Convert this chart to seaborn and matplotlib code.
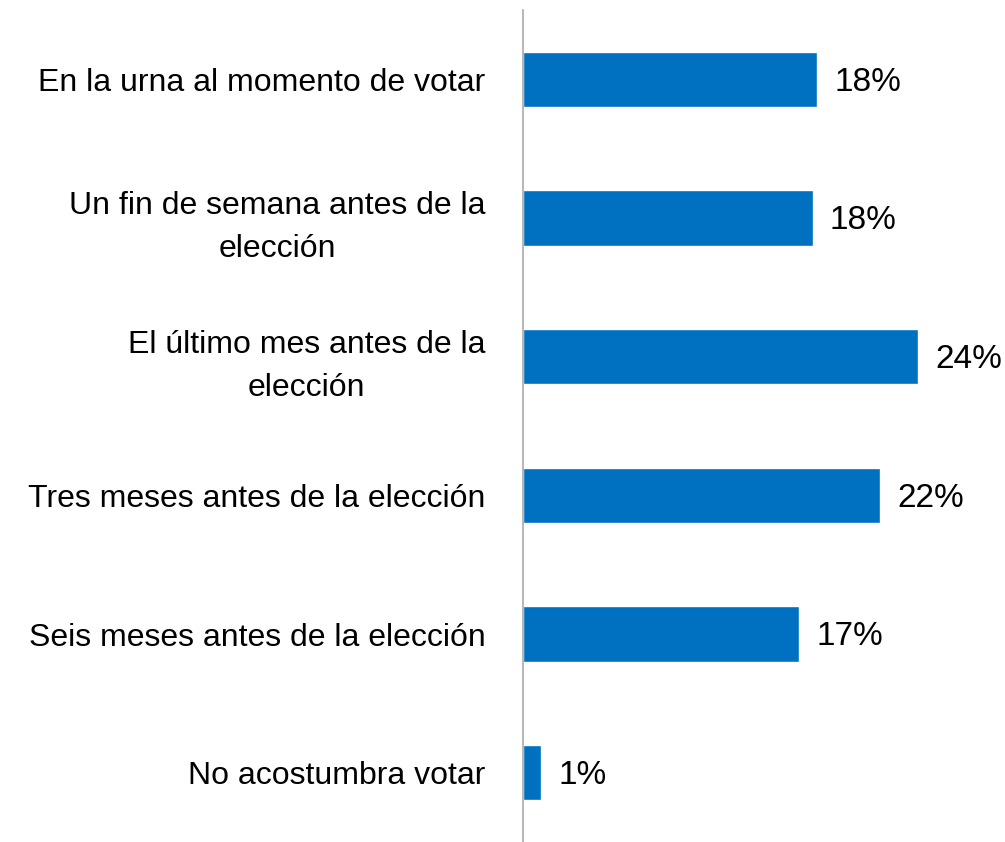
import matplotlib
matplotlib.use("Agg")
import matplotlib.pyplot as plt
import seaborn as sns
import pandas as pd

categories = [
    "En la urna al momento de votar",
    "Un fin de semana antes de la\nelección",
    "El último mes antes de la\nelección",
    "Tres meses antes de la elección",
    "Seis meses antes de la elección",
    "No acostumbra votar",
]
values = [17.9, 17.6, 24.0, 21.7, 16.8, 1.1]
value_labels = ["18%", "18%", "24%", "22%", "17%", "1%"]

sns.set_style("white")
plt.rcParams["font.family"] = ["Liberation Sans", "DejaVu Sans"]

df = pd.DataFrame({"cat": categories, "val": values})

fig = plt.figure(figsize=(10.05, 8.42), dpi=100)
ax = fig.add_axes([523 / 1005, 0.0, 1 - 523 / 1005, 832 / 842])
sns.barplot(data=df, y="cat", x="val", orient="h", color="#0070C0",
            width=0.40, saturation=1, ax=ax)

ax.set_xlim(0, 29.3)
ax.set_ylim(5.5, -0.5)
ax.set_xlabel("")
ax.set_ylabel("")
ax.set_xticks([])
for s in ["top", "right", "bottom"]:
    ax.spines[s].set_visible(False)
ax.spines["left"].set_color("#AAAAAA")
ax.spines["left"].set_linewidth(1.2)
ax.tick_params(axis="y", length=0, pad=27, labelsize=23, labelcolor="black")
for lab in ax.get_yticklabels():
    lab.set_multialignment("center")
    lab.set_linespacing(1.55)

for i, (v, t) in enumerate(zip(values, value_labels)):
    ax.annotate(t, xy=(v, i), xytext=(12.5, -2), textcoords="offset points",
                ha="left", va="center", fontsize=24, color="black")

fig.savefig("out.png", dpi=100)
